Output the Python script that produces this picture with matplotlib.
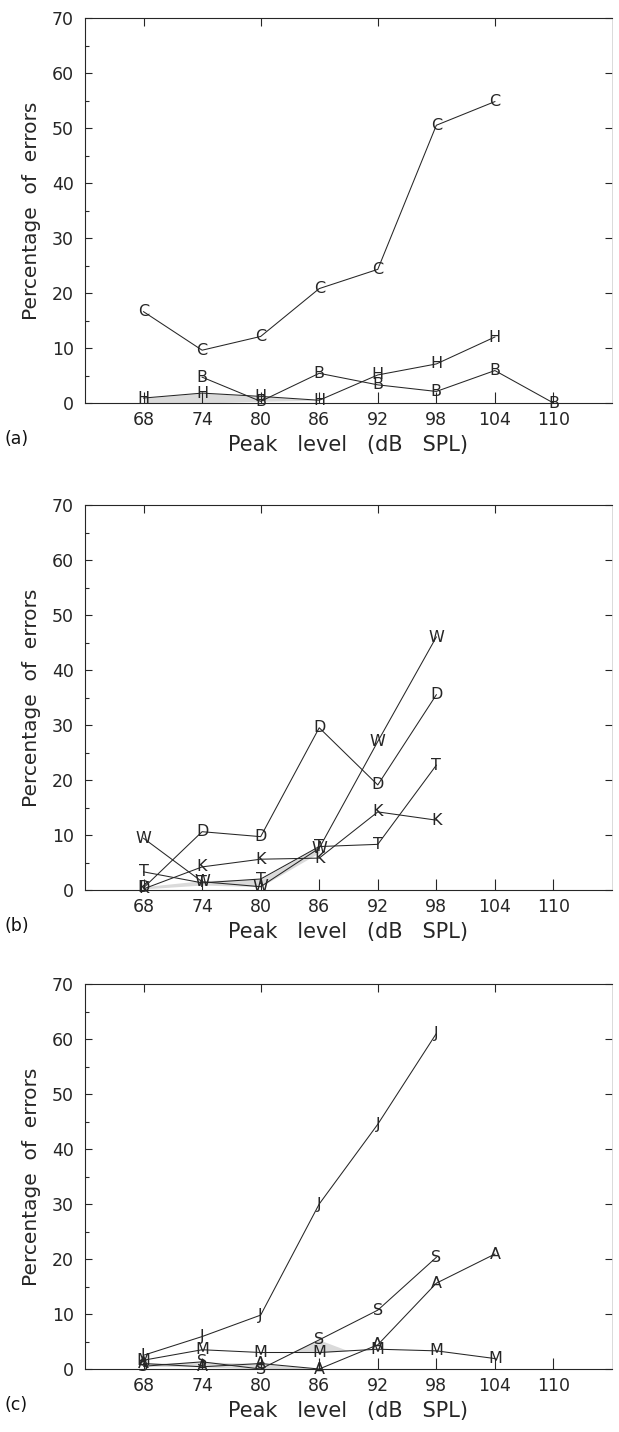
import matplotlib
matplotlib.use("Agg")
import matplotlib.pyplot as plt
import numpy as np

# ---------------- data ----------------
x_ticks = [68, 74, 80, 86, 92, 98, 104, 110]

# panel (a)
a_C_x = [68, 74, 80, 86, 92, 98, 104]
a_C_y = [16.6, 9.6, 12.1, 20.8, 24.3, 50.5, 54.8]
a_H_x = [68, 74, 80, 86, 92, 98, 104]
a_H_y = [0.9, 1.8, 1.2, 0.5, 5.1, 7.1, 12.0]
a_B_x = [74, 80, 86, 92, 98, 104, 110]
a_B_y = [4.7, 0.3, 5.4, 3.3, 2.1, 5.9, 0.0]
a_shade_x = [68, 74, 80, 86]
a_shade_lo = [0.0, 0.0, 0.3, 0.5]
a_shade_hi = [0.9, 1.8, 1.2, 0.5]

# panel (b)
b_W_x = [68, 74, 80, 86, 92, 98]
b_W_y = [9.4, 1.5, 0.6, 7.6, 27.0, 46.0]
b_D_x = [68, 74, 80, 86, 92, 98]
b_D_y = [0.4, 10.6, 9.7, 29.5, 19.1, 35.5]
b_K_x = [68, 74, 80, 86, 92, 98]
b_K_y = [0.2, 4.2, 5.6, 5.8, 14.2, 12.7]
b_T_x = [68, 74, 80, 86, 92, 98]
b_T_y = [3.3, 1.3, 2.0, 7.9, 8.3, 22.7]
b_shade_x = [68, 74, 80, 86]
b_shade_lo = [0.2, 0.9, 0.6, 6.8]
b_shade_hi = [0.6, 1.7, 2.0, 7.9]

# panel (c)
c_J_x = [68, 74, 80, 86, 92, 98]
c_J_y = [2.5, 5.9, 9.8, 30.0, 44.5, 61.0]
c_S_x = [68, 74, 80, 86, 92, 98]
c_S_y = [0.5, 1.3, 0.0, 5.3, 10.7, 20.3]
c_A_x = [68, 74, 80, 86, 92, 98, 104]
c_A_y = [1.0, 0.4, 1.0, 0.0, 4.4, 15.6, 20.9]
c_M_x = [68, 74, 80, 86, 92, 98, 104]
c_M_y = [1.6, 3.5, 3.0, 3.0, 3.6, 3.3, 1.9]
c_shade_x = [68, 74, 80, 86]
c_shade_lo = [0.5, 0.4, 0.0, 0.0]
c_shade_hi = [1.0, 1.3, 1.0, 0.0]
c_shade2_x = [83, 86, 89]
c_shade2_lo = [3.0, 3.0, 3.3]
c_shade2_hi = [3.0, 5.3, 3.3]

panels = [
    ("(a)", [("C", a_C_x, a_C_y), ("H", a_H_x, a_H_y), ("B", a_B_x, a_B_y)],
     [(a_shade_x, a_shade_lo, a_shade_hi)]),
    ("(b)", [("W", b_W_x, b_W_y), ("D", b_D_x, b_D_y), ("K", b_K_x, b_K_y), ("T", b_T_x, b_T_y)],
     [(b_shade_x, b_shade_lo, b_shade_hi)]),
    ("(c)", [("J", c_J_x, c_J_y), ("S", c_S_x, c_S_y), ("A", c_A_x, c_A_y), ("M", c_M_x, c_M_y)],
     [(c_shade_x, c_shade_lo, c_shade_hi), (c_shade2_x, c_shade2_lo, c_shade2_hi)]),
]

# ---------------- figure ----------------
W, H = 619, 1432
plt.rcParams['font.family'] = ['DejaVu Sans']
fig = plt.figure(figsize=(W / 100, H / 100), dpi=100)
ink = '#262626'

tops = [18, 505, 984]
ax_h = 385
left_px, right_px = 85, 612

for (lab, series, shades), top in zip(panels, tops):
    bottom = top + ax_h
    ax = fig.add_axes([left_px / W, 1 - bottom / H, (right_px - left_px) / W, ax_h / H])
    ax.set_xlim(62, 116)
    ax.set_ylim(0, 70)
    for sx, lo, hi in shades:
        ax.fill_between(sx, lo, hi, color='#dadada', lw=0, zorder=1)
    for letter, xs, ys in series:
        ax.plot(xs, ys, color=ink, lw=0.75, zorder=2)
        for xv, yv in zip(xs, ys):
            ax.text(xv, yv, letter, ha='center', va='center', fontsize=11.5,
                    color=ink, zorder=3)
    ax.set_xticks(x_ticks)
    ax.set_xticklabels([str(t) for t in x_ticks], fontsize=12.5, color=ink)
    ax.set_yticks(np.arange(0, 71, 10))
    ax.set_yticklabels([str(t) for t in range(0, 71, 10)], fontsize=12.5, color=ink)
    ax.set_yticks(np.arange(5, 70, 10), minor=True)
    ax.tick_params(axis='x', direction='in', length=8, width=0.8, color=ink, pad=6)
    ax.tick_params(axis='y', which='major', direction='in', length=5, width=0.8,
                   color=ink, pad=8, right=True)
    ax.tick_params(axis='y', which='minor', direction='in', length=3, width=0.8, color=ink)
    for s in ['left', 'bottom', 'top']:
        ax.spines[s].set_color(ink)
        ax.spines[s].set_linewidth(0.8)
    ax.spines['right'].set_color('#cccccc')
    ax.spines['right'].set_linewidth(0.5)
    # top ticks every 12 dB
    ax2 = ax.secondary_xaxis('top')
    ax2.set_xticks([68, 80, 92, 104])
    ax2.set_xticklabels([])
    ax2.tick_params(direction='in', length=6, width=0.8, color=ink)
    ax2.spines['top'].set_visible(False)
    ax.set_xlabel("Peak   level   (dB   SPL)", fontsize=15, color=ink, labelpad=4)
    ax.set_ylabel("Percentage  of  errors", fontsize=14.5, color=ink, labelpad=8)
    fig.text(4 / W, 1 - (bottom + 36) / H, lab, fontsize=12.5, color='#111111',
             ha='left', va='center')

fig.savefig("out.png", dpi=100, facecolor='white')
